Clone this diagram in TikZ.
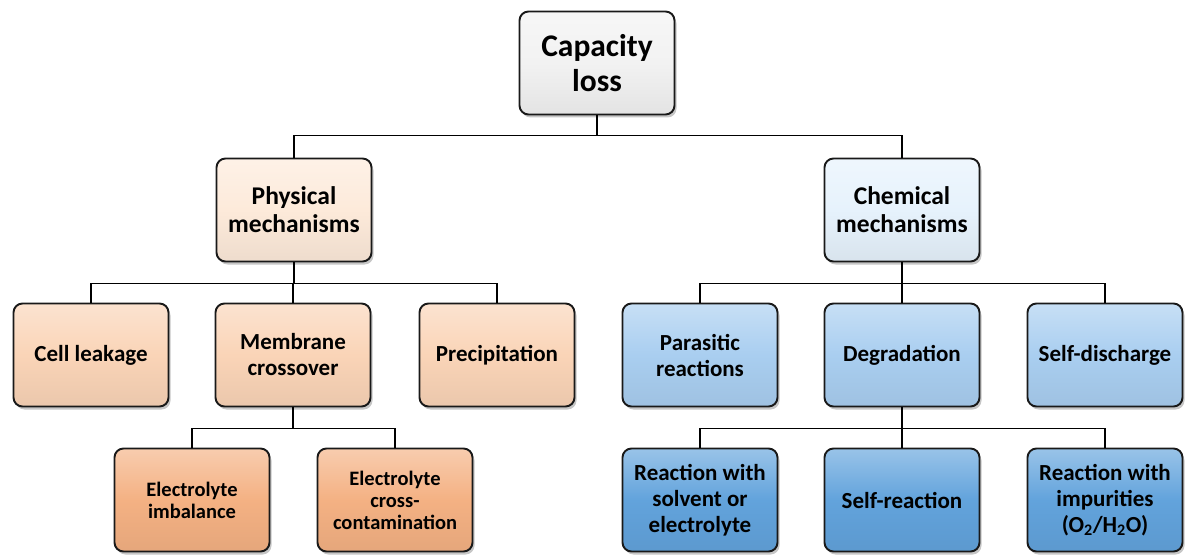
\documentclass[tikz,border=0pt]{standalone}
\usepackage{fontspec}
\setmainfont{Carlito}
\usetikzlibrary{shadows}

\definecolor{toptone}{HTML}{F2F2F2}
\definecolor{physlight}{HTML}{FDEADA}
\definecolor{physmid}{HTML}{FAD4B7}
\definecolor{physdark}{HTML}{F4B183}
\definecolor{chemlight}{HTML}{E6F2FC}
\definecolor{chemmid}{HTML}{A9CEF0}
\definecolor{chemdark}{HTML}{62A3DC}

\begin{document}
\begin{tikzpicture}[x=1pt,y=-1pt,
    box/.style={draw=black!90, line width=1.9pt, rounded corners=9pt,
      minimum width=155pt, minimum height=103pt, align=center, inner sep=2pt,
      font=\fontsize{23}{26}\selectfont\bfseries,
      drop shadow={opacity=0.45, shadow xshift=2pt, shadow yshift=-3pt}},
    tone/.style={top color=#1!65!white, bottom color=#1!94!black, middle color=#1},
    link/.style={line width=1.8pt}]
  \useasboundingbox (0,0) rectangle (1186,556);

  % top
  \node[box, tone=toptone, font=\fontsize{31.5}{35}\selectfont\bfseries] (cap) at (597,63) {Capacity\\loss};

  % mechanisms
  \node[box, tone=physlight, font=\fontsize{25.5}{28}\selectfont\bfseries] (phys) at (294,210) {Physical\\mechanisms};
  \node[box, tone=chemlight, font=\fontsize{25.5}{28}\selectfont\bfseries] (chem) at (902,210) {Chemical\\mechanisms};

  % second row
  \node[box, tone=physmid] (leak) at (91,355) {Cell leakage};
  \node[box, tone=physmid] (memb) at (293,355) {Membrane\\crossover};
  \node[box, tone=physmid] (prec) at (497,355) {Precipitation};
  \node[box, tone=chemmid] (para) at (700,355) {Parasitic\\reactions};
  \node[box, tone=chemmid] (degr) at (902,355) {Degradation};
  \node[box, tone=chemmid] (selfd) at (1105,355) {Self-discharge};

  % third row
  \node[box, tone=physdark, font=\fontsize{20.5}{22}\selectfont\bfseries] (imbal) at (192,500) {Electrolyte\\imbalance};
  \node[box, tone=physdark, font=\fontsize{20.5}{22}\selectfont\bfseries] (cross) at (395,500) {Electrolyte\\cross-\\contamination};
  \node[box, tone=chemdark] (solv) at (700,500) {Reaction with\\solvent or\\electrolyte};
  \node[box, tone=chemdark] (selfr) at (902,500) {Self-reaction};
  \node[box, tone=chemdark] (impur) at (1105,500) {Reaction with\\impurities\\(O\textsubscript{2}/H\textsubscript{2}O)};

  % connectors
  \draw[link] (cap.south) -- ++(0,20) -| (phys.north);
  \draw[link] (cap.south) -- ++(0,20) -| (chem.north);
  \draw[link] (phys.south) -- ++(0,21) -| (leak.north);
  \draw[link] (phys.south) -- ++(0,21) -| (memb.north);
  \draw[link] (phys.south) -- ++(0,21) -| (prec.north);
  \draw[link] (chem.south) -- ++(0,21) -| (para.north);
  \draw[link] (chem.south) -- ++(0,21) -| (degr.north);
  \draw[link] (chem.south) -- ++(0,21) -| (selfd.north);
  \draw[link] (memb.south) -- ++(0,21) -| (imbal.north);
  \draw[link] (memb.south) -- ++(0,21) -| (cross.north);
  \draw[link] (degr.south) -- ++(0,21) -| (solv.north);
  \draw[link] (degr.south) -- ++(0,21) -| (selfr.north);
  \draw[link] (degr.south) -- ++(0,21) -| (impur.north);
\end{tikzpicture}
\end{document}
